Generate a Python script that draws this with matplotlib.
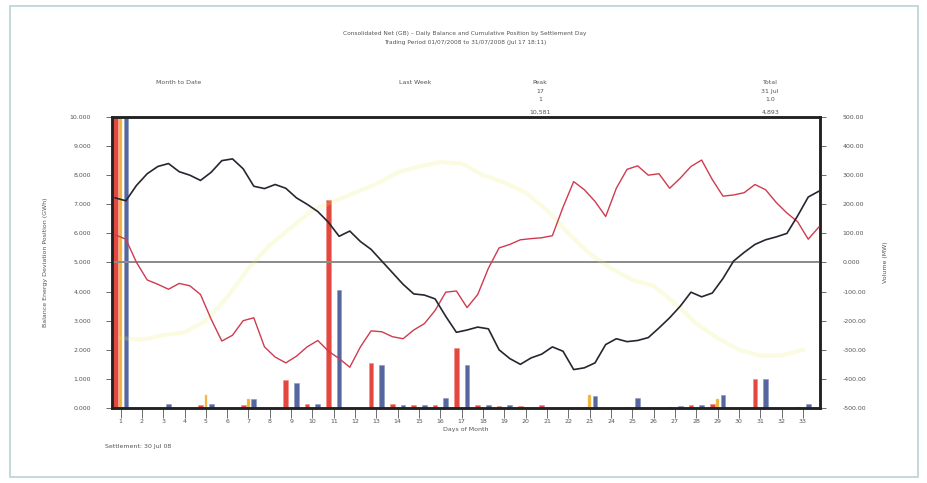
import numpy as np
import matplotlib.pyplot as plt
from matplotlib.patches import Rectangle

# settlement days
days = list(range(1, 34))

# daily volumes per day (left axis)
vol_red = [12, 0, 0, 0, 0.1, 0, 0.1, 0, 0.96, 0.12, 7.15, 0, 1.55, 0.12, 0.1, 0.1, 2.07,
           0.1, 0.08, 0.06, 0.1, 0, 0.05, 0, 0.05, 0, 0.05, 0.1, 0.15, 0, 1.0, 0, 0.05]
vol_yellow = [12, 0, 0, 0, 0.45, 0, 0.3, 0, 0, 0, 0, 0, 0, 0, 0, 0, 0,
              0, 0, 0, 0, 0, 0.45, 0, 0, 0, 0, 0, 0.3, 0, 0, 0, 0]
vol_blue = [12, 0, 0.15, 0, 0.15, 0, 0.3, 0, 0.85, 0.15, 4.05, 0, 1.48, 0.1, 0.1, 0.35, 1.47,
            0.1, 0.1, 0, 0, 0, 0.4, 0, 0.35, 0, 0.08, 0.1, 0.45, 0, 1.0, 0, 0.15]

# half-day positions for the running balances (right axis)
t_half = [0.75 + 0.5 * i for i in range(67)]
bal_black = [222, 212, 265, 305, 330, 340, 312, 300, 282, 310, 350, 356, 322, 262, 254, 268,
             255, 222, 200, 175, 138, 90, 108, 72, 45, 5, -35, -75, -108, -112, -125, -185,
             -240, -232, -222, -228, -300, -330, -350, -328, -315, -290, -305, -368, -362,
             -345, -282, -262, -272, -268, -258, -225, -190, -150, -102, -118, -105, -55, 5,
             35, 62, 78, 88, 100, 160, 225, 245]
bal_red = [95, 80, 0, -60, -75, -92, -72, -80, -110, -195, -270, -250, -200, -190, -290, -325,
           -345, -322, -290, -268, -305, -330, -360, -290, -235, -238, -255, -262, -232, -210,
           -165, -102, -98, -155, -110, -20, 50, 62, 78, 82, 85, 92, 190, 278, 250, 210, 158,
           255, 320, 332, 300, 305, 255, 290, 330, 352, 285, 228, 232, 240, 268, 250, 206, 170,
           140, 80, 122]
# forecast trend, one value per day
trend = [-260, -265, -250, -240, -200, -120, -20, 60, 120, 180, 210, 240, 270, 310, 330, 345,
         340, 300, 275, 240, 180, 100, 30, -20, -60, -80, -140, -210, -260, -300, -320, -320, -300]

left_ticks = [0, 1, 2, 3, 4, 5, 6, 7, 8, 9, 10]
right_ticks = [-500, -400, -300, -200, -100, 0, 100, 200, 300, 400, 500]

fs = 4.5
tc = '#555555'

fig = plt.figure(figsize=(9.28, 4.83), dpi=100)
fig.patches.append(Rectangle((0.011, 0.012), 0.978, 0.976, transform=fig.transFigure,
                             fill=False, edgecolor='#b9d3d3', linewidth=1.2))

ax = fig.add_axes([0.1207, 0.1553, 0.7629, 0.6025])
x = np.array(days, dtype=float)
w = 0.22
ax.bar(x - 0.25, vol_red, width=w, color='#e2483f', edgecolor='#f08a80', linewidth=0.4, zorder=2)
ax.bar(x, vol_yellow, width=0.12, color='#f2b13a', edgecolor='#f7d27a', linewidth=0.3, zorder=2)
ax.bar(x + 0.25, vol_blue, width=w, color='#55679e', edgecolor='#8a96c0', linewidth=0.4, zorder=2)

ax.set_xlim(0.6, 33.8)
ax.set_ylim(0, 10)
ax.set_yticks(left_ticks)
ax.set_yticklabels([f'{v:.3f}' for v in left_ticks])
ax.set_xticks(days)
ax.set_xticklabels([str(d) for d in days])
ax.tick_params(axis='both', labelsize=fs, colors=tc, length=4, width=0.6, direction='out')
ax.tick_params(axis='y', pad=11)
ax.tick_params(axis='x', length=7, pad=1)
for s in ax.spines.values():
    s.set_linewidth(1.8)
    s.set_color('#222222')
ax.set_ylabel('Balance Energy Deviation Position (GWh)', fontsize=fs, color=tc, labelpad=16)
ax.set_xlabel('Days of Month', fontsize=fs, color=tc, labelpad=2)

ax2 = ax.twinx()
ax2.set_ylim(-500, 500)
ax2.set_yticks(right_ticks)
ax2.set_yticklabels([f'{v:.2f}' if v else '0.000' for v in right_ticks])
ax2.tick_params(axis='y', labelsize=fs, colors=tc, length=4, width=0.6, pad=12)
ax2.axhline(0, color='#8a8a8a', linewidth=1.4, zorder=1)
ax2.plot(x, trend, color='#e8ef6a', linewidth=3, alpha=0.2, zorder=2)
ax2.plot(t_half, bal_red, color='#cf3b4e', linewidth=1.0, zorder=3)
ax2.plot(t_half, bal_black, color='#262630', linewidth=1.2, zorder=4)
ax2.set_ylabel('Volume (MW)', fontsize=fs, color=tc, labelpad=12)
for s in ax2.spines.values():
    s.set_linewidth(1.8)
    s.set_color('#222222')

fig.text(0.501, 0.927, 'Consolidated Net (GB) \u2013 Daily Balance and Cumulative Position by Settlement Day',
         ha='center', fontsize=4.2, color=tc)
fig.text(0.501, 0.909, 'Trading Period 01/07/2008 to 31/07/2008 (Jul 17 18:11)',
         ha='center', fontsize=4.2, color=tc)

fig.text(0.193, 0.826, 'Month to Date', ha='center', fontsize=fs, color=tc)
fig.text(0.447, 0.826, 'Last Week', ha='center', fontsize=fs, color=tc)
fig.text(0.582, 0.826, 'Peak', ha='center', fontsize=fs, color=tc)
fig.text(0.582, 0.808, '17', ha='center', fontsize=fs, color=tc)
fig.text(0.582, 0.790, '1', ha='center', fontsize=fs, color=tc)
fig.text(0.582, 0.765, '10,581', ha='center', fontsize=fs, color=tc)
fig.text(0.830, 0.826, 'Total', ha='center', fontsize=fs, color=tc)
fig.text(0.830, 0.808, '31 Jul', ha='center', fontsize=fs, color=tc)
fig.text(0.830, 0.790, '1.0', ha='center', fontsize=fs, color=tc)
fig.text(0.830, 0.765, '4,893', ha='center', fontsize=fs, color=tc)

fig.text(0.113, 0.072, 'Settlement: 30 Jul 08', ha='left', fontsize=fs, color=tc)

fig.savefig('out.png', dpi=100)
